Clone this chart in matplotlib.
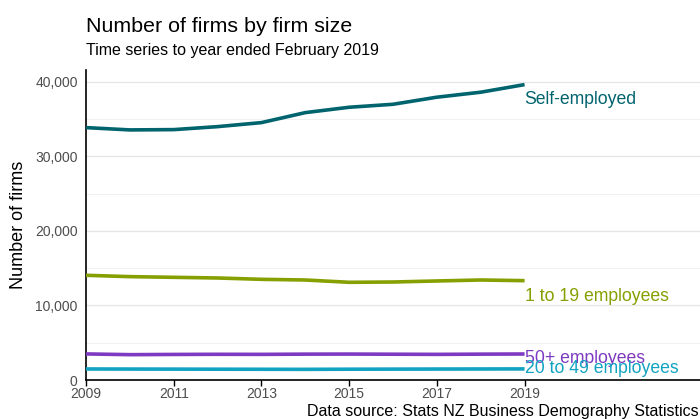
import matplotlib
matplotlib.use("Agg")
import matplotlib.pyplot as plt
from matplotlib.ticker import FuncFormatter, MultipleLocator

plt.rcParams['font.family'] = ['Liberation Sans', 'DejaVu Sans']

years = list(range(2009, 2020))
self_employed = [33870, 33560, 33600, 34000, 34540, 35880, 36600, 37000, 37950, 38620, 39640]
emp_1_19 = [14050, 13870, 13780, 13690, 13510, 13420, 13110, 13150, 13290, 13420, 13330]
emp_50p = [3500, 3400, 3430, 3450, 3440, 3470, 3480, 3460, 3440, 3470, 3490]
emp_20_49 = [1480, 1470, 1460, 1450, 1440, 1430, 1450, 1460, 1470, 1480, 1490]
series_names = ["Self-employed", "1 to 19 employees", "50+ employees", "20 to 49 employees"]
series_values = [self_employed, emp_1_19, emp_50p, emp_20_49]
colors = ["#00646f", "#85a000", "#7e3bc1", "#11a3c1"]
label_offsets = [-14, -14.4, -6.5, -3.3]
tick_years = [2009, 2011, 2013, 2015, 2017, 2019]

fig = plt.figure(figsize=(7, 4.19), dpi=100)
ax = fig.add_axes([86/700, 1 - 380/419, 614/700, 310/419])

for name, vals, c, off in zip(series_names, series_values, colors, label_offsets):
    ax.plot(years, vals, color=c, lw=2.6, solid_capstyle='butt', zorder=3)
    ax.annotate(name, xy=(years[-1], vals[-1]), xytext=(0, off), textcoords='offset points',
                color=c, fontsize=12.7, ha='left', va='baseline', zorder=4)

ax.set_xlim(2009, 2023)
ax.set_ylim(0, 41600)
ax.set_xticks(tick_years)
ax.yaxis.set_major_locator(MultipleLocator(10000))
ax.yaxis.set_minor_locator(MultipleLocator(5000))
ax.yaxis.set_major_formatter(FuncFormatter(lambda v, p: f"{int(v):,}"))
ax.grid(axis='y', which='major', color='#e6e6e6', lw=1.0, zorder=0)
ax.grid(axis='y', which='minor', color='#f0f0f0', lw=0.8, zorder=0)
for s in ['top', 'right']:
    ax.spines[s].set_visible(False)
for s in ['left', 'bottom']:
    ax.spines[s].set_color('black')
    ax.spines[s].set_linewidth(1.2)
ax.tick_params(axis='x', colors='black', length=4, width=1, labelcolor='#4d4d4d', labelsize=10, pad=1)
ax.tick_params(axis='y', which='both', length=0, labelcolor='#4d4d4d', labelsize=10, pad=6)
ax.set_ylabel("Number of firms", fontsize=13, labelpad=6)

fig.text(86/700, 1 - 32/419, "Number of firms by firm size", fontsize=15.4, va='baseline', ha='left')
fig.text(86/700, 1 - 55/419, "Time series to year ended February 2019", fontsize=11.5, va='baseline', ha='left')
fig.text(699/700, 1 - 415.5/419, "Data source: Stats NZ Business Demography Statistics", fontsize=11.5, va='baseline', ha='right')

fig.savefig("out.png", dpi=100)
